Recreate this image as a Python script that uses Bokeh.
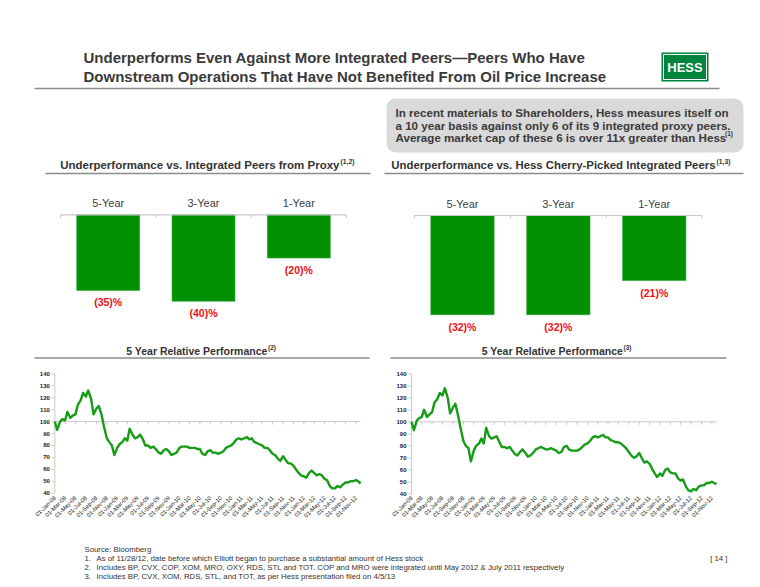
import numpy as np
import pandas as pd
from bokeh.plotting import figure
from bokeh.models import Range1d, ColumnDataSource, BoxAnnotation
from bokeh.embed import file_html
from bokeh.resources import INLINE
from bokeh.core.properties import value

# ---------------- data ----------------
bar_categories = ["5-Year", "3-Year", "1-Year"]
proxy_peers_perf = [-35, -40, -20]        # vs integrated peers from proxy
cherry_peers_perf = [-32, -32, -21]       # vs Hess cherry-picked integrated peers

# half-monthly observations, 01-Jan-08 .. 28-Nov-12
perf_dates = [d for m in pd.date_range("2008-01-01", "2012-11-01", freq="MS")
              for d in (m, m + pd.Timedelta(days=14))] + [pd.Timestamp("2012-11-28")]
relperf_proxy = [100, 93, 100, 102, 101, 108, 103, 105, 106, 114,
                 118, 124, 121, 126, 119, 106, 111, 113, 106, 96,
                 86, 83, 80, 72, 78, 81, 83, 86, 84, 94,
                 89, 86, 87, 89, 85, 80, 80, 78, 79, 77,
                 74, 73, 76, 77, 75, 72, 73, 74, 78, 79,
                 79, 79, 78, 78, 78, 77, 77, 73, 72, 75,
                 76, 74, 74, 73, 74, 75, 78, 79, 80, 82,
                 85, 86, 85, 86, 87, 85, 86, 83, 82, 81,
                 80, 78, 78, 76, 73, 72, 69, 67, 71, 68,
                 65, 65, 63, 60, 57, 55, 54, 53, 57, 59,
                 57, 55, 56, 55, 52, 51, 46, 44, 44, 46,
                 45, 47, 49, 49, 50, 50, 51, 50, 48]
relperf_cherry = [100, 93, 101, 103, 104, 110, 104, 106, 108, 116,
                  119, 124, 122, 128, 120, 107, 112, 115, 105, 95,
                  84, 80, 78, 67, 76, 80, 82, 86, 82, 95,
                  88, 86, 87, 88, 83, 79, 79, 78, 79, 76,
                  73, 72, 75, 77, 74, 71, 72, 74, 77, 78,
                  79, 78, 77, 77, 78, 77, 76, 74, 75, 79,
                  80, 77, 76, 76, 76, 77, 79, 81, 82, 84,
                  87, 88, 87, 88, 89, 87, 87, 85, 84, 83,
                  83, 82, 80, 78, 75, 72, 70, 71, 74, 70,
                  66, 67, 65, 61, 57, 54, 57, 55, 60, 61,
                  58, 57, 57, 53, 51, 52, 46, 43, 42, 44,
                  43, 46, 47, 47, 49, 49, 50, 49, 48]
date_ticks = list(pd.date_range("2008-01-01", "2012-11-01", freq="2MS"))
date_tick_labels = [d.strftime("%d-%b-%y") for d in date_ticks]
y_ticks = list(range(40, 141, 10))

title_lines = ["Underperforms Even Against More Integrated Peers\u2014Peers Who Have",
               "Downstream Operations That Have Not Benefited From Oil Price Increase"]
box_lines = ["In recent materials to Shareholders, Hess measures itself on",
             "a 10 year basis against only 6 of its 9 integrated proxy peers.",
             "Average market cap of these 6 is over 11x greater than Hess"]
footnotes = ["Source: Bloomberg",
             "As of 11/28/12, date before which Elliott began to purchase a substantial amount of Hess stock",
             "Includes BP, CVX, COP, XOM, MRO, OXY, RDS, STL and TOT. COP and MRO were integrated until May 2012 & July 2011 respectively",
             "Includes BP, CVX, XOM, RDS, STL, and TOT, as per Hess presentation filed on 4/5/13"]

# ---------------- canvas (reference pixel space) ----------------
W, H = 760, 587
p = figure(width=W, height=H, output_backend="svg", toolbar_location=None,
           x_axis_location=None, y_axis_location=None, min_border=0,
           x_range=Range1d(0, W), y_range=Range1d(H, 0))
p.grid.visible = False
p.outline_line_color = None
p.background_fill_color = "white"
p.border_fill_color = "white"

FONT = "Liberation Sans"
DARK = "#333333"
GREEN = "#009000"
LINEG = "#169c16"
RED = "#ee1111"
RULE = "#8c8c8c"
AXIS = "#c8c8c8"


def lin_range(d0, d1, q0, q1, lo, hi):
    k = (d1 - d0) / (q1 - q0)
    return Range1d(start=d0 + (lo - q0) * k, end=d0 + (hi - q0) * k)


def xr_for(name, d0, d1, q0, q1):
    p.extra_x_ranges[name] = lin_range(d0, d1, q0, q1, 0, W)


def yr_for(name, d0, d1, q0, q1):
    p.extra_y_ranges[name] = lin_range(d0, d1, q0, q1, H, 0)


def add_text(xs, ys, texts, size="11px", style="normal", color=DARK, align="left",
             baseline="middle", font=FONT, angle=0.0, xr="default", yr="default",
             x_offset=0, y_offset=0):
    src = ColumnDataSource(dict(x=list(xs), y=list(ys), text=list(texts)))
    p.text(x="x", y="y", text="text", source=src, text_font=value(font),
           text_font_size=size, text_font_style=style, text_color=color,
           text_align=align, text_baseline=baseline, angle=angle,
           x_range_name=xr, y_range_name=yr, x_offset=x_offset, y_offset=y_offset)


def rule(x0, x1, y, color=RULE, width=1.5):
    p.segment(x0=[x0], x1=[x1], y0=[y], y1=[y], line_color=color, line_width=width)


def ms(ts):
    return pd.Timestamp(ts).value / 1e6

# ---------------- header ----------------
add_text([83, 83], [57, 75.5], title_lines, size="15px", style="bold", color="#3a3a3a")
rule(34, 719, 88)

# logo
p.quad(left=[661], right=[708], top=[52], bottom=[81], fill_color="#00843d", line_color=None)
p.quad(left=[663], right=[706], top=[54], bottom=[79], fill_color=None, line_color="white", line_width=1)
add_text([684.5], [67], ["HESS"], size="13px", style="bold", color="white", align="center")

# callout box
p.add_layout(BoxAnnotation(left=386, right=743, top=98, bottom=152, fill_color="#d9d9d9",
                           fill_alpha=1.0, line_color=None, border_radius=9, level="underlay"))
add_text([395, 395, 395], [112, 124.5, 137], box_lines, size="11.6px", style="bold", color="#3a3a3a")
add_text([724.5], [133], ["(1)"], size="6.5px", style="bold", color="#3a3a3a")

# section headers
add_text([339], [164], ["Underperformance vs. Integrated Peers from Proxy"], size="11.5px", style="bold", align="right")
add_text([340], [160.5], ["(1,2)"], size="6.8px", style="bold")
rule(45, 370, 173)
add_text([715], [164], ["Underperformance vs. Hess Cherry-Picked Integrated Peers"], size="11.4px", style="bold", align="right")
add_text([716], [160.5], ["(1,3)"], size="6.8px", style="bold")
rule(384, 743, 173)

# ---------------- bar charts ----------------
idx = list(range(len(bar_categories)))
bar_specs = [("a", proxy_peers_perf, 60, 346, 214.3, 2.16),
             ("b", cherry_peers_perf, 414, 701.7, 215.0, 3.10)]
for name, vals, left, right, y0px, k in bar_specs:
    xn, yn = "bx_" + name, "by_" + name
    xr_for(xn, -0.5, len(idx) - 0.5, left, right)
    yr_for(yn, 0, -10, y0px, y0px + 10 * k)
    p.vbar(x=idx, top=[0] * len(idx), bottom=vals, width=0.66, fill_color=GREEN,
           line_color="#2aa52a", line_width=0.6, x_range_name=xn, y_range_name=yn)
    bounds = [i - 0.5 for i in range(len(idx) + 1)]
    p.segment(x0=[bounds[0]], x1=[bounds[-1]], y0=[0], y1=[0], line_color=AXIS, line_width=1.2,
              x_range_name=xn, y_range_name=yn)
    p.segment(x0=bounds, x1=bounds, y0=[0] * len(bounds), y1=[-3.0 / k] * len(bounds),
              line_color=AXIS, line_width=1, x_range_name=xn, y_range_name=yn)
    add_text(idx, [y0px - 11.5] * len(idx), bar_categories, size="11px", color="#404040",
             align="center", xr=xn)
    add_text(idx, vals, ["(%d)%%" % abs(v) for v in vals], size="10.5px", style="bold",
             color=RED, align="center", xr=xn, yr=yn, y_offset=12)

# ---------------- line charts ----------------
add_text([267], [350], ["5 Year Relative Performance"], size="10.5px", style="bold", align="right")
add_text([267.5], [346.5], ["(2)"], size="6.5px", style="bold")
rule(34, 369, 357.5)
add_text([622.5], [350], ["5 Year Relative Performance"], size="10.5px", style="bold", align="right")
add_text([623], [346.5], ["(3)"], size="6.5px", style="bold")
rule(390, 726, 357.5)

t0, t1 = ms("2008-01-01"), ms("2012-11-28")
line_specs = [("c", relperf_proxy, 54.3, 360.0, 373.3, 492.7),
              ("d", relperf_cherry, 411.0, 716.0, 373.3, 493.3)]
xs_dates = [ms(d) for d in perf_dates]
tick_ms = [ms(d) for d in date_ticks]
for name, vals, left, right, ytop, ybot in line_specs:
    xn, yn = "lx_" + name, "ly_" + name
    xr_for(xn, t0, t1, left, right)
    yr_for(yn, 140, 40, ytop, ybot)
    upx = 100.0 / (ybot - ytop)  # data units per pixel
    # value axis
    p.segment(x0=[left], x1=[left], y0=[40], y1=[140], line_color=AXIS, line_width=1, y_range_name=yn)
    p.segment(x0=[left - 3] * len(y_ticks), x1=[left] * len(y_ticks), y0=y_ticks, y1=y_ticks,
              line_color=AXIS, line_width=1, y_range_name=yn)
    add_text([left - 5] * len(y_ticks), y_ticks, [str(v) for v in y_ticks], size="6px",
             style="bold", color="#222222", align="right", yr=yn)
    # category axis crossing at 100
    p.segment(x0=[t0], x1=[t1], y0=[100], y1=[100], line_color=AXIS, line_width=1,
              x_range_name=xn, y_range_name=yn)
    p.segment(x0=tick_ms, x1=tick_ms, y0=[100] * len(tick_ms), y1=[100 - 3 * upx] * len(tick_ms),
              line_color=AXIS, line_width=1, x_range_name=xn, y_range_name=yn)
    add_text(tick_ms, [496.5] * len(tick_ms), date_tick_labels, size="5.8px", color="#222222",
             align="right", baseline="middle", angle=np.pi / 4, xr=xn)
    # series
    p.line(x=xs_dates, y=vals, line_color=LINEG, line_width=2.4, line_join="round",
           x_range_name=xn, y_range_name=yn)

# ---------------- footnotes ----------------
FN = "7.8px"
add_text([84], [549], [footnotes[0]], size=FN, color="#333333")
add_text([84, 84, 84], [558, 567, 576], ["1.", "2.", "3."], size=FN, color="#333333")
add_text([96, 96, 96], [558, 567, 576], footnotes[1:], size=FN, color="#333333")
add_text([727], [558], ["[ 14 ]"], size=FN, color="#333333", align="right")

open("out.html", "w").write(file_html(p, INLINE))
